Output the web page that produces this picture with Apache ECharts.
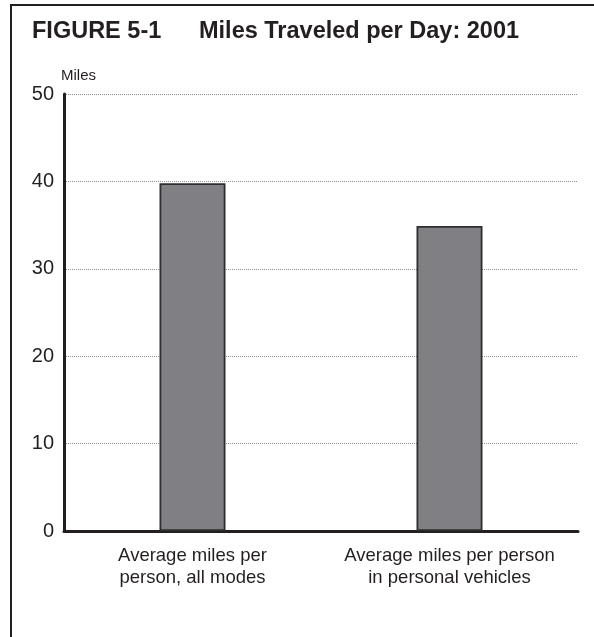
<!DOCTYPE html>
<html>
<head>
<meta charset="utf-8">
<script src="https://cdn.jsdelivr.net/npm/echarts@6/dist/echarts.min.js"></script>
<style>
html,body{margin:0;padding:0;background:#fff;}
#chart{width:594px;height:637px;}
</style>
</head>
<body>
<div id="chart"></div>
<script>
const categories = ['Average miles per\nperson, all modes', 'Average miles per person\nin personal vehicles'];
const milesValues = [39.8, 34.9];
const yTicks = { min: 0, max: 50, interval: 10 };
const figureLabel = 'FIGURE 5-1';
const titleText = 'Miles Traveled per Day: 2001';
const yAxisName = 'Miles';

const font = "'Liberation Sans Narrow', 'Arial Narrow', 'Liberation Sans', Arial, sans-serif";
const ink = '#231f20';
const chart = echarts.init(document.getElementById('chart'));
chart.setOption({
  animation: false,
  backgroundColor: '#fff',
  title: [
    { text: figureLabel, left: 27, top: 15,
      textStyle: { fontFamily: font, fontWeight: 'bold', fontSize: 23.5, color: ink } },
    { text: titleText, left: 194, top: 15,
      textStyle: { fontFamily: font, fontWeight: 'bold', fontSize: 23.5, color: ink } }
  ],
  graphic: [
    { type: 'line', shape: { x1: 11, y1: 5, x2: 11, y2: 637 }, style: { stroke: ink, lineWidth: 2 } },
    { type: 'line', shape: { x1: 10, y1: 5, x2: 594, y2: 5 }, style: { stroke: ink, lineWidth: 2 } }
  ],
  grid: { left: 64, right: 16, top: 94, bottom: 106, containLabel: false },
  xAxis: {
    type: 'category',
    data: categories,
    axisLine: { show: true, lineStyle: { color: ink, width: 3 } },
    axisTick: { show: false },
    axisLabel: { fontFamily: font, fontSize: 18.5, color: ink, margin: 14, lineHeight: 22, interval: 0 }
  },
  yAxis: {
    type: 'value',
    min: yTicks.min, max: yTicks.max, interval: yTicks.interval,
    name: yAxisName,
    nameLocation: 'end',
    nameGap: 11,
    nameTextStyle: { fontFamily: font, fontSize: 15, color: ink, align: 'left', padding: [0, 0, 0, -3] },
    axisLine: { show: true, lineStyle: { color: ink, width: 3 } },
    axisTick: { show: false },
    axisLabel: { fontFamily: font, fontSize: 20, color: ink, margin: 10 },
    splitLine: { show: true, lineStyle: { color: '#8c8c8c', type: [1, 1], width: 1 } }
  },
  series: [{
    type: 'bar',
    data: milesValues,
    barWidth: 66,
    itemStyle: { color: '#808084', borderColor: '#2e2e2e', borderWidth: 1.8 }
  }]
});
</script>
</body>
</html>
